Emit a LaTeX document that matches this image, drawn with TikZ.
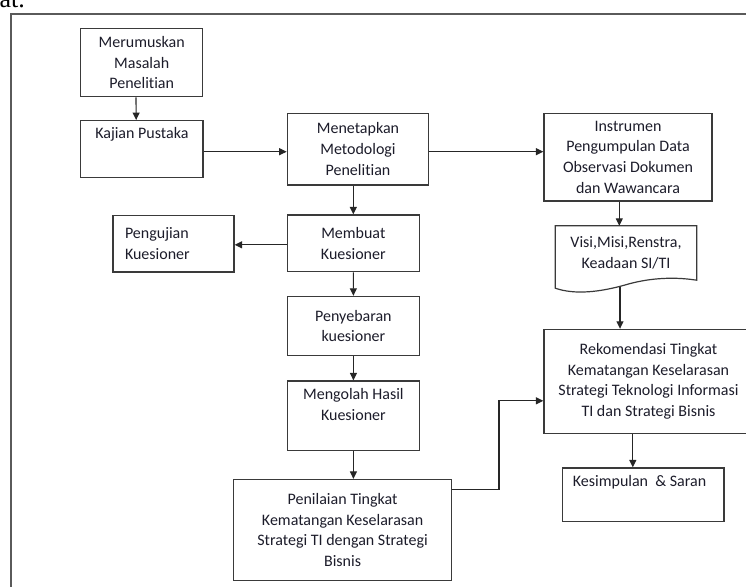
\documentclass[tikz,border=0pt]{standalone}
\usepackage{fontspec}
\setmainfont[RawFeature={-liga;-clig;-calt;-dlig}]{Carlito}
\newfontfamily\pagefont{Liberation Serif}
\usetikzlibrary{arrows.meta,calc,positioning}
\definecolor{ink}{HTML}{1C1C2A}
\definecolor{edge}{HTML}{3A3A3A}
\definecolor{frame}{HTML}{5A5A5A}

\begin{document}
\begin{tikzpicture}[x=1pt,y=-1pt,font=\fontsize{16}{20.8}\selectfont,
  box/.style={draw=edge,line width=1.2pt,text=ink,align=center,inner sep=2pt},
  txt/.style={text=ink,inner sep=0pt,align=center},
  arr/.style={draw=black!85,line width=1.1pt,-{Triangle[length=7.5pt,width=7pt]}}]
\useasboundingbox (0,0) rectangle (746,586);
\clip (0,0) rectangle (746,586);
% page around the chart
\node[font=\pagefont\fontsize{26}{26}\selectfont,anchor=base east,inner sep=0pt] (pagetext) at (25,8) {at.};
\draw[frame,line width=2pt] (11,600) -- (11,14) -- (760,14);
% left column
\node[box,minimum width=122pt,minimum height=68pt] (rumus) at (141.7,62.7) {Merumuskan\\Masalah\\Penelitian};
\node[box,minimum width=122.3pt,minimum height=56.7pt] (kajian) at (141.85,149) {};
\node[txt,below=7pt of kajian.north] (kajiantxt) {Kajian Pustaka};
\node[box,text width=97pt,inner xsep=12pt,minimum height=56.7pt,align=left] (uji) at (173.5,243.7) {Pengujian\\Kuesioner};
% middle column
\node[box,minimum width=141.4pt,minimum height=71.7pt] (metode) at (358,149.2) {Menetapkan\\Metodologi\\Penelitian};
\node[box,minimum width=132pt,minimum height=56.7pt] (buat) at (353.3,243.3) {Membuat\\Kuesioner};
\node[box,minimum width=132pt,minimum height=59.2pt] (sebar) at (353.4,326) {Penyebaran\\kuesioner};
\node[box,minimum width=132pt,minimum height=69.6pt] (olah) at (353.4,415.8) {};
\node[txt,below=7.5pt of olah.north] (olahtxt) {Mengolah Hasil\\Kuesioner};
\node[box,minimum width=217.6pt,minimum height=101pt] (nilai) at (342.6,530) {Penilaian Tingkat\\Kematangan Keselarasan\\Strategi TI dengan Strategi\\Bisnis};
% right column
\node[box,minimum width=168pt,minimum height=87.7pt] (instrumen) at (628,157.2) {Instrumen\\Pengumpulan Data\\Observasi Dokumen\\dan Wawancara};
\node[txt,minimum width=141pt,minimum height=54pt] (visi) at (626,253) {Visi,Misi,Renstra,\\Keadaan SI/TI};
\draw[edge,line width=1.2pt] (visi.north west) -- (visi.north east) -- (visi.south east)
  .. controls (670,276) and (645,279) .. (625,285)
  .. controls (600,292) and (575,295) .. ([yshift=-8pt]visi.south west) -- cycle;
\coordinate (visibot) at (620,286.5);
\node[box,minimum width=209pt,minimum height=103.8pt] (rekom) at (648.5,381.3) {Rekomendasi Tingkat\\Kematangan Keselarasan\\Strategi Teknologi Informasi\\TI dan Strategi Bisnis};
\node[box,minimum width=161.2pt,minimum height=53.3pt] (simpul) at (643.4,494.65) {};
\node[txt,anchor=north west] (simpultxt) at ([xshift=10.5pt,yshift=-7.8pt]simpul.north west) {Kesimpulan~ \& Saran};
% connectors
\draw[arr] ([xshift=-5.7pt]rumus.south) -- ([xshift=-5.7pt]kajian.north);
\draw[arr] ([yshift=-2.7pt]kajian.east) -- ([yshift=-2.7pt]kajian.east -| metode.west);
\draw[arr] ([yshift=-2.5pt]metode.east) -- ([yshift=-2.5pt]metode.east -| instrumen.west);
\draw[arr] (buat.north |- metode.south) -- (buat.north);
\draw[arr] ([yshift=-1.5pt]buat.west) -- ([yshift=-1.5pt]buat.west -| uji.east);
\draw[arr] (buat.south) -- (sebar.north);
\draw[arr] (sebar.south) -- (olah.north);
\draw[arr] (olah.south) -- (olah.south |- nilai.north);
\draw[arr] ([xshift=-8.7pt]instrumen.south) -- ([xshift=-8.7pt]instrumen.south |- visi.north);
\draw[arr] (visibot) -- (visibot |- rekom.north);
\draw[arr] ([yshift=-10.5pt]nilai.north east) -- ++(47,0) |- ([yshift=-19.5pt]rekom.west);
\draw[arr] ([xshift=-15.7pt]rekom.south) -- ([xshift=-15.7pt]rekom.south |- simpul.north);
\end{tikzpicture}
\end{document}
